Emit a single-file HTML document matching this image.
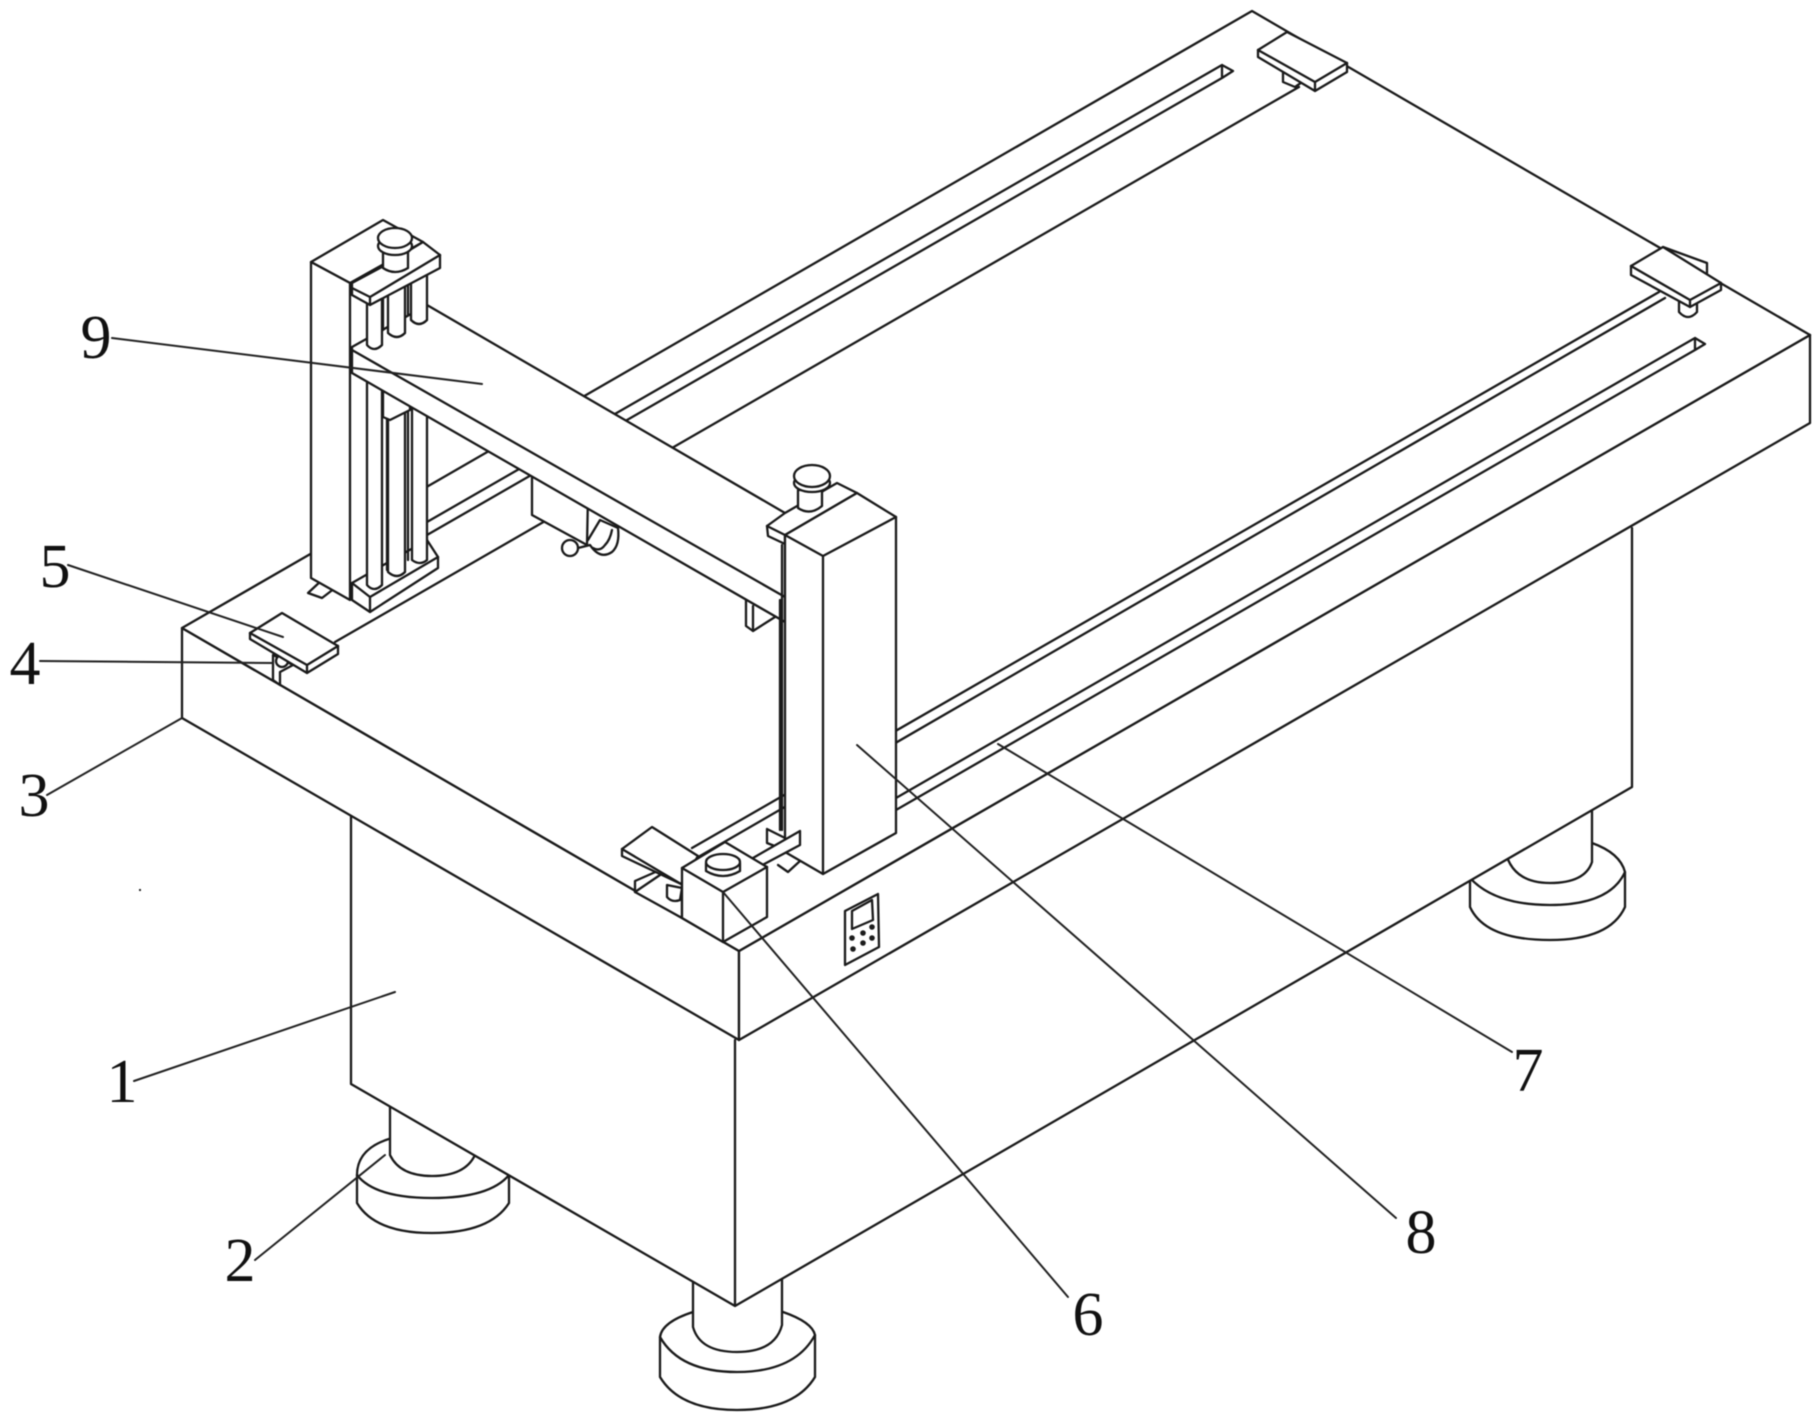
<!DOCTYPE html>
<html><head><meta charset="utf-8"><style>
html,body{margin:0;padding:0;background:#fff}
svg{display:block;filter:blur(.55px)}
.l{fill:#fff;stroke:#1a1a1a;stroke-width:2.3;stroke-linejoin:round;stroke-linecap:round}
.n{fill:none;stroke:#1a1a1a;stroke-width:2.3;stroke-linejoin:round;stroke-linecap:round}
.t{fill:none;stroke:#222;stroke-width:2;stroke-linecap:round}
text{font-family:"Liberation Serif",serif;font-size:62px;fill:#111;text-anchor:middle}
</style></head><body>
<svg width="1820" height="1419" viewBox="0 0 1820 1419" xmlns="http://www.w3.org/2000/svg">
<!-- feet -->
<g class="l">
<path d="M357 1175 L357 1203 Q375 1233 432 1233 Q490 1233 509 1203 L509 1175 Q490 1198 432 1198 Q375 1198 357 1175Z"/>
<path class="n" d="M357 1175 Q357 1148 392 1138"/>
<path d="M390 1100 L390 1155 Q400 1176 432 1176 Q465 1176 475 1155 L475 1100Z"/>
<path d="M660 1337 L660 1377 Q680 1410 737 1410 Q795 1410 815 1377 L815 1335 Q795 1372 737 1372 Q680 1372 660 1337Z"/>
<path class="n" d="M660 1337 Q662 1322 693 1312 M783 1312 Q812 1322 815 1335"/>
<path d="M693 1270 L693 1327 Q700 1352 737 1352 Q775 1352 782 1325 L782 1270Z"/>
<path d="M1470 878 L1470 907 Q1485 940 1550 940 Q1610 940 1625 907 L1625 872 Q1610 905 1550 905 Q1495 905 1470 878Z"/>
<path class="n" d="M1592 843 Q1620 853 1625 872"/>
<path d="M1592 790 L1592 862 Q1585 883 1550 883 Q1512 883 1505 850Z"/>
</g>
<!-- body -->
<polygon fill="#fff" points="351,815 735,1040 735,1306 351,1084"/>
<polygon fill="#fff" points="735,1040 1632,530 1632,787 735,1306"/>
<path class="n" d="M351 815 L351 1084 L735 1306 L1632 787 L1632 528 M735 1040 L735 1306"/>
<!-- slab -->
<polygon class="l" points="182,628 739,951 739,1040 182,718"/>
<polygon class="l" points="739,951 1810,335 1810,423 739,1040"/>
<polygon class="l" points="182,628 1252,11 1810,335 739,951"/>
<!-- rails -->
<g class="n">
<path d="M1222 65 L427 522 M1222 78 L427 535 M1222 65 L1233 71 L1222 78 Z"/>
<path d="M1299 87 L335 642"/>
<path d="M1659 292 L692 848 M1665 298 L700 856"/>
<path d="M1695 338 L823 840 M1695 350 L823 852 M1695 338 L1705 344 L1695 350 Z"/>
<path d="M778 865 L788 872 L800 861"/>
</g>
<!-- plates back -->
<g class="l">
<path d="M1283 68 L1283 82 L1295 87 L1305 80Z"/>
<polygon points="1287,32 1258,50 1258,57 1315,91 1347,72 1347,63"/>
<path class="n" d="M1258 50 L1315 82 L1315 91 M1315 82 L1347 63"/>
<path d="M1679 298 L1679 312 Q1688 322 1697 312 L1697 298Z"/>
<polygon points="1663,247 1631,266 1631,275 1690,307 1721,290 1721,283"/>
<path class="n" d="M1631 266 L1690 300 L1690 307 M1690 300 L1721 283 M1663 247 L1707 263 L1707 273"/>
</g>
<!-- left front plate -->
<g class="l">
<path d="M273 655 L273 680 L280 685 L280 672 L293 665Z"/>
<circle cx="282" cy="661" r="6"/>
<polygon points="282,613 250,633 250,639 307,673 338,654 338,646"/>
<path class="n" d="M250 633 L307 665 L307 673 M307 665 L338 646"/>
</g>
<!-- small bracket under post -->
<path class="l" d="M308 593 L322 598 L335 588 L322 580Z"/>
<!-- left post backdrop + lower rods -->
<polygon points="350,283 427,250 427,565 370,600 350,600" fill="#fff"/>
<g class="l">
<polygon points="352,583 427,540 438,557 438,568 370,612 352,600"/>
<path class="n" d="M352 583 L370 597 L370 612 M370 597 L438 557"/>
<path class="n" d="M383 392 L383 417 M387 400 L387 570 M408 410 L408 560"/>
<path d="M412 360 L412 560 Q420 566 427 560 L427 360Z"/>
<path d="M388 380 L388 572 Q397 580 405 572 L405 380Z"/>
<path d="M383 392 L383 417 L390 420 L410 410 L410 385Z"/>
<path d="M367 340 L367 585 Q374 593 382 585 L382 340Z"/>
</g>
<!-- slider under beam -->
<g class="l">
<circle cx="570" cy="548" r="8"/>
<path d="M578 548 L590 545 Q600 560 612 552 Q620 545 618 528 L600 520 L588 540"/>
<path class="n" d="M593 548 Q600 552 605 545 Q610 540 612 530"/>
<polygon points="532,470 532,515 587,545 588,495"/>
<path class="n" d="M588 508 L618 526"/>
</g>
<!-- right bracket under beam -->
<path class="l" d="M746 600 L746 626 L753 631 L775 617 L775 600Z"/>
<path class="n" d="M753 606 L753 631"/>
<!-- beam -->
<polygon class="l" points="352,347 427,305 785,513 785,622 352,373"/>
<path class="n" d="M352 350 L785 597"/>
<!-- upper rods -->
<g class="l">
<path d="M411 275 L411 320 Q419 328 427 320 L427 275Z"/>
<path d="M388 285 L388 333 Q397 341 405 333 L405 285Z"/>
<path class="n" d="M383 295 L383 330 M408 280 L408 315"/>
<path d="M367 295 L367 345 Q374 353 382 345 L382 295Z"/>
</g>
<!-- left post and top plate -->
<g class="l">
<polygon points="311,262 383,220 423,242 350,283"/>
<polygon points="311,262 350,283 350,600 311,578"/>
<polygon points="352,283 380,268 423,242 440,255 440,268 370,305 352,295"/>
<path class="n" d="M352 288 L370 297 L370 305 M370 297 L440 255"/>
<path d="M383 247 L383 268 Q395 276 408 268 L408 247Z"/>
<ellipse cx="395" cy="246" rx="17" ry="9"/>
<ellipse cx="395" cy="238" rx="17" ry="10"/>
</g>
<!-- right post -->
<g class="l">
<polygon points="767,526 785,513 837,483 857,493 785,535 785,544 768,536"/>
<path d="M798 490 L798 508 Q810 516 822 506 L822 490Z"/>
<ellipse cx="812" cy="483" rx="18" ry="9"/>
<ellipse cx="812" cy="476" rx="18" ry="11"/>
<path class="n" d="M767 526 L785 535 M782 545 L782 830 M780 600 L780 830"/>
<polygon points="785,535 857,493 896,517 896,833 823,874 785,852"/>
<path class="n" d="M785 535 L823 556 L896 517 M823 556 L823 874"/>
</g>
<!-- rail end bracket and front plate -->
<g class="l">
<path d="M767 829 L767 843 L785 850 L785 838Z"/>
<polygon points="800,831 800,845 753,870 753,858"/>
<path d="M635 881 L635 892 L682 918 L682 880 L660 870Z"/>
<path class="n" d="M635 892 L660 875"/>
<path d="M667 885 L667 897 Q672 903 680 900 L682 888Z"/>
<polygon points="622,849 652,827 698,856 681,884 622,856"/>
<path class="n" d="M622 849 L681 884"/>
<polygon points="682,868 725,842 767,867 767,917 723,942 682,918"/>
<path class="n" d="M682 868 L723 892 L767 867 M723 892 L723 942"/>
<path d="M706 863 L706 871 Q723 881 740 871 L740 863Z"/>
<ellipse cx="723" cy="862" rx="17" ry="8"/>
<polygon points="845,911 878,894 879,947 845,965"/>
<polygon points="852,911 872,900 873,920 852,929"/>
</g>
<g fill="#1c1c1c">
<circle cx="852" cy="938" r="2.8"/><circle cx="863" cy="933" r="2.8"/><circle cx="872" cy="927" r="2.8"/>
<circle cx="853" cy="949" r="2.8"/><circle cx="863" cy="943" r="2.8"/><circle cx="872" cy="938" r="2.8"/>
<circle cx="140" cy="890" r="1.1"/>
</g>
<!-- leaders -->
<g class="t">
<path d="M112 338 L482 384"/>
<path d="M68 565 L283 637"/>
<path d="M40 661 L273 663"/>
<path d="M47 795 L182 718"/>
<path d="M255 1260 L385 1155"/>
<path d="M134 1081 L395 992"/>
<path d="M723 892 L1068 1297"/>
<path d="M857 745 L1396 1218"/>
<path d="M998 744 L1512 1052"/>
</g>
<!-- labels -->
<text x="96" y="358">9</text>
<text x="55" y="587">5</text>
<text x="25" y="684">4</text>
<text x="34" y="816">3</text>
<text x="240" y="1281">2</text>
<text x="122" y="1102">1</text>
<text x="1088" y="1335">6</text>
<text x="1421" y="1253">8</text>
<text x="1528" y="1091">7</text>
</svg>
</body></html>
